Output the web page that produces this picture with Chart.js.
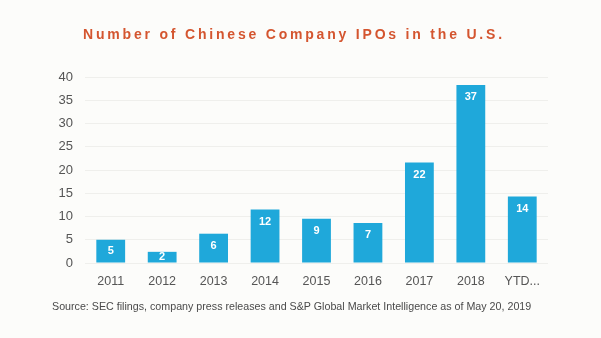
<!DOCTYPE html>
<html>
<head>
<meta charset="utf-8">
<script src="https://cdn.jsdelivr.net/npm/chart.js@4.4.1/dist/chart.umd.min.js"></script>
<style>
  html, body { margin: 0; padding: 0; background: #fcfcfa; }
  #wrap { position: relative; width: 601px; height: 338px; overflow: hidden; background: #fcfcfa; }
  #title { position: absolute; left: 0; width: 588px; top: 26px; text-align: center;
    font: bold 14px "Liberation Sans", Arial, sans-serif; letter-spacing: 2.8px; color: #d4552f; }
  #source { position: absolute; left: 52px; top: 300px; white-space: nowrap;
    font: 10.7px "Liberation Sans", Arial, sans-serif; color: #4a4a4a; }
  canvas { position: absolute; left: 0; top: 0; }
</style>
</head>
<body>
<div id="wrap">
  <canvas id="c" width="601" height="338"></canvas>
  <div id="title">Number of Chinese Company IPOs in the U.S.</div>
  <div id="source">Source: SEC filings, company press releases and S&amp;P Global Market Intelligence as of May 20, 2019</div>
</div>
<script>
const categories = ["2011", "2012", "2013", "2014", "2015", "2016", "2017", "2018", "YTD..."];
// bar heights as drawn in the picture
const barValues = [5, 2.4, 6.3, 11.5, 9.5, 8.6, 21.6, 38.3, 14.3];
// numbers printed inside the bars
const valueLabels = ["5", "2", "6", "12", "9", "7", "22", "37", "14"];
const yTicks = [0, 5, 10, 15, 20, 25, 30, 35, 40];

const labelPlugin = {
  id: 'inBarLabels',
  afterDatasetsDraw(chart) {
    const ctx = chart.ctx;
    const meta = chart.getDatasetMeta(0);
    ctx.save();
    ctx.fillStyle = '#ffffff';
    ctx.font = 'bold 11px "Liberation Sans", Arial, sans-serif';
    ctx.textAlign = 'center';
    ctx.textBaseline = 'middle';
    meta.data.forEach((bar, i) => {
      const h = bar.base - bar.y;
      let y = bar.y + 12;
      if (h < 24) y = bar.y + h / 2;
      ctx.fillText(valueLabels[i], bar.x, y);
    });
    ctx.restore();
  }
};

new Chart(document.getElementById('c'), {
  type: 'bar',
  data: {
    labels: categories,
    datasets: [{
      data: barValues,
      backgroundColor: '#1fa8da',
      borderWidth: 0,
      barPercentage: 0.56,
      categoryPercentage: 1.0
    }]
  },
  options: {
    responsive: false,
    animation: false,
    events: [],
    layout: { padding: { top: 77, right: 53, bottom: 38, left: 0 } },
    plugins: { legend: { display: false }, tooltip: { enabled: false } },
    scales: {
      x: {
        grid: { display: false, drawTicks: false },
        border: { display: false },
        ticks: { padding: 11, color: '#555555', font: { family: '"Liberation Sans", Arial, sans-serif', size: 12.5 } }
      },
      y: {
        min: 0, max: 40,
        afterFit(scale) { scale.width = 85; },
        afterBuildTicks(scale) { scale.ticks = yTicks.map(v => ({ value: v })); },
        grid: { color: '#efefec', drawTicks: false },
        border: { display: false },
        ticks: { padding: 12, color: '#555555', font: { family: '"Liberation Sans", Arial, sans-serif', size: 13 } }
      }
    }
  },
  plugins: [labelPlugin]
});
</script>
</body>
</html>
